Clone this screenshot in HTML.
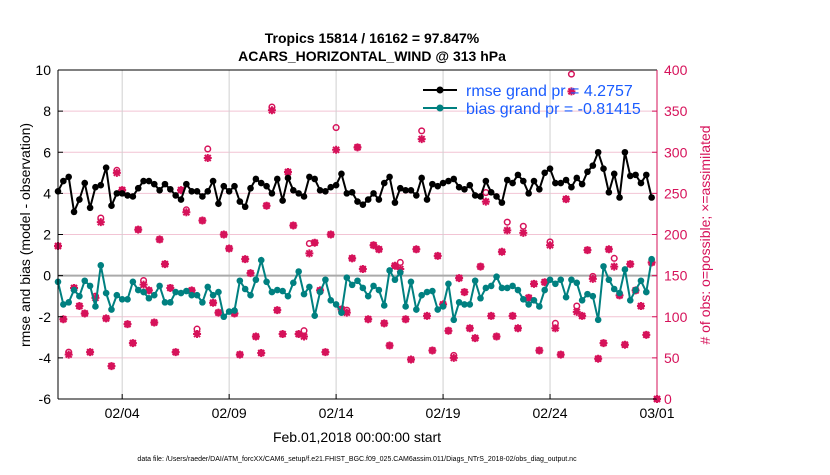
<!DOCTYPE html>
<html><head><meta charset="utf-8"><style>
body{margin:0;background:#fff;width:830px;height:470px;overflow:hidden;font-family:"Liberation Sans",sans-serif}
svg text{font-family:"Liberation Sans",sans-serif}
</style></head><body>
<svg id="chart" width="830" height="470" xmlns="http://www.w3.org/2000/svg">
<text x="372" y="43" text-anchor="middle" font-size="14" font-weight="bold">Tropics 15814 / 16162 = 97.847%</text>
<text x="372" y="61" text-anchor="middle" font-size="14" font-weight="bold">ACARS_HORIZONTAL_WIND @ 313 hPa</text>
<g id="grid"></g><g id="marks"></g><g id="axes"></g>
<text transform="translate(30,235) rotate(-90)" text-anchor="middle" font-size="14">rmse and bias (model - observation)</text>
<text transform="translate(710,235) rotate(-90)" text-anchor="middle" font-size="14" fill="#d6125a"># of obs: o=possible; ×=assimilated</text>
<text x="357" y="442" text-anchor="middle" font-size="14">Feb.01,2018 00:00:00 start</text>
<text x="357" y="461" text-anchor="middle" font-size="7">data file: /Users/raeder/DAI/ATM_forcXX/CAM6_setup/f.e21.FHIST_BGC.f09_025.CAM6assim.011/Diags_NTrS_2018-02/obs_diag_output.nc</text>
<g>
<line x1="423" y1="90" x2="457" y2="90" stroke="#000" stroke-width="2"/><circle cx="440" cy="90" r="3.5" fill="#000"/>
<text x="466" y="96" font-size="16" fill="#1a5cff">rmse grand pr = 4.2757</text>
<line x1="423" y1="108" x2="457" y2="108" stroke="#008080" stroke-width="2"/><circle cx="440" cy="108" r="3.5" fill="#008080"/>
<text x="466" y="114" font-size="16" fill="#1a5cff">bias grand pr = -0.81415</text>
</g>
</svg>
<script>
const rmse=[4.1,4.6,4.8,3.1,3.7,4.5,3.3,4.3,4.4,5.25,3.4,4.0,4.0,3.9,3.85,4.25,4.6,4.6,4.45,4.15,4.45,4.2,3.9,3.7,4.45,4.1,4.1,3.85,
4.1,4.6,3.5,4.35,4.1,4.35,3.6,3.35,4.25,4.7,4.5,4.35,4.0,4.7,3.65,4.75,4.15,4.0,3.85,4.8,4.7,4.15,4.1,4.3,4.4,4.95,4.0,4.05,3.6,
3.45,3.7,4.0,3.7,4.5,4.8,3.55,4.25,4.15,4.15,3.9,4.75,3.7,4.45,4.35,4.5,4.6,4.7,4.3,4.2,4.4,3.9,3.85,4.6,4.05,3.85,3.55,4.65,
4.5,4.9,4.6,4.0,4.6,4.2,5.0,5.2,4.5,4.5,4.65,4.3,4.75,4.45,5.05,5.35,6.0,5.2,4.05,4.95,3.8,6.0,4.85,4.9,4.5,4.9,3.8,null];
const bias=[-0.3,-1.4,-1.3,-0.7,-1.0,-0.25,-0.5,-1.5,0.5,-0.85,-1.65,-0.95,-1.15,-1.15,-0.3,-0.7,-0.8,-1.1,-0.95,-0.5,-1.3,-1.3,-0.8,-0.85,-0.75,-0.95,-0.95,-1.3,-0.55,
-0.95,-0.8,-2.0,-1.75,-1.7,-0.25,-0.65,-0.95,-0.2,0.75,-0.3,-0.8,-0.7,-0.75,-1.0,-0.35,0.2,-0.9,-0.55,-1.95,-0.8,-0.2,-1.2,-1.4,-1.8,-0.1,-0.45,-0.25,
-0.6,-1.0,-0.5,-0.7,-1.45,0.25,-0.2,0.15,-1.5,-0.3,-1.65,-0.95,-0.8,-0.75,-1.65,-1.5,-0.4,-2.15,-1.3,-1.4,-1.4,-0.25,-1.1,-0.6,-0.5,-0.05,-0.6,-0.6,
-0.5,-0.7,-1.15,-1.4,-1.2,-1.5,-0.7,-0.2,-0.4,-0.2,-1.05,-0.2,-0.35,-1.2,-0.9,-1.0,-2.15,0.45,-0.2,-0.65,-0.85,0.3,-1.2,-0.7,-0.25,-0.8,0.8,null];
const nAssim=[186,97,54,135,113,104,57,123,215,98,40,275,254,91,68,206,139,132,93,194,164,135,57,254,227,132,79,217,293,
117,105,200,183,104,54,170,153,76,56,235,351,108,79,276,211,79,76,177,190,132,57,200,303,109,105,171,306,
158,97,187,182,92,65,162,158,97,48,182,316,101,59,174,115,83,50,147,130,86,74,161,240,101,76,179,205,
101,86,202,123,140,59,142,187,86,54,243,374,106,101,181,146,49,68,182,161,126,66,164,132,113,78,166,0];
const nPoss=[186,97,57,135,113,104,57,125,220,98,40,278,254,91,68,206,144,132,93,194,164,135,57,254,230,132,85,217,304,
117,105,200,183,104,54,170,153,76,56,235,355,108,79,276,211,79,83,189,190,132,57,200,330,109,108,171,306,
158,97,187,182,92,65,162,166,97,48,182,326,101,59,174,115,83,53,147,130,86,74,161,251,101,76,179,215,
101,86,210,123,140,59,142,191,92,54,243,395,113,101,181,149,49,68,182,171,126,66,164,132,113,78,166,0];
const leftTicks=[10,8,6,4,2,0,-2,-4,-6];
const rightTicks=[0,50,100,150,200,250,300,350,400];
const dateTicks=[3,8,13,18,23,28];
const dateLabels=["02/04","02/09","02/14","02/19","02/24","03/01"];
const stepDays=0.25;

const X0=58,X1=657,Y0=70,Y1=399;
const xs=d=>X0+(d/28)*(X1-X0);
const yl=v=>Y0+(10-v)/16*(Y1-Y0);
const yr=c=>Y1-c/400*(Y1-Y0);
const NS="http://www.w3.org/2000/svg";
function mk(tag,attrs,parent){const e=document.createElementNS(NS,tag);for(const k in attrs)e.setAttribute(k,attrs[k]);parent.appendChild(e);return e;}
const grid=document.getElementById('grid'),marks=document.getElementById('marks'),axes=document.getElementById('axes');
const PINK="#d6125a";

leftTicks.forEach(v=>{
 if(v!==10&&v!==-6&&v!==0){const g=mk('line',{x1:X0,x2:X1,y1:yl(v),y2:yl(v),stroke:'#f2c4d4','stroke-width':1},grid);
 
 }
 const t=mk('text',{x:X0-7,y:yl(v)+5,'text-anchor':'end','font-size':14},axes);t.textContent=v;
 
 
 mk('line',{x1:X0,x2:X0+5,y1:yl(v),y2:yl(v),stroke:'#000'},axes);
});
rightTicks.forEach(c=>{
 const t=mk('text',{x:X1+7,y:yr(c)+5,'font-size':14,fill:PINK},axes);t.textContent=c;
 
 
 mk('line',{x1:X1-5,x2:X1,y1:yr(c),y2:yr(c),stroke:PINK},axes);
});
dateTicks.forEach((d,i)=>{
 const g=mk('line',{x1:xs(d),x2:xs(d),y1:Y0,y2:Y1,stroke:'#d0d0d0'},grid);
 
 
 mk('line',{x1:xs(d),x2:xs(d),y1:Y1,y2:Y1-5,stroke:'#000'},axes);
 const t=mk('text',{x:xs(d),y:418,'text-anchor':'middle','font-size':14},axes);t.textContent=dateLabels[i];
 
 
});
const zl=mk('line',{x1:X0,x2:X1,y1:yl(0),y2:yl(0),stroke:'#aaa','stroke-width':2},grid);



nAssim.forEach((c,i)=>{
 const x=xs(i*stepDays);
 const pc=mk('circle',{cx:x,cy:yr(nPoss[i]),r:2.8,fill:'none',stroke:PINK,'stroke-width':1.5},marks);
 
 
 const y=yr(c);
 const s=mk('path',{d:`M${x-4},${y}H${x+4}M${x},${y-4}V${y+4}M${x-3},${y-3}L${x+3},${y+3}M${x-3},${y+3}L${x+3},${y-3}`,stroke:PINK,'stroke-width':2},marks);
 
 
});
function series(arr,color,name){
 let d='';let pen=false;
 arr.forEach((v,i)=>{if(v===null){pen=false;return;}d+=(pen?'L':'M')+xs(i*stepDays)+','+yl(v);pen=true;});
 const p=mk('path',{d:d,fill:'none',stroke:color,'stroke-width':2},marks);
 
 
 arr.forEach((v,i)=>{if(v===null)return;
  const c=mk('circle',{cx:xs(i*stepDays),cy:yl(v),r:3.3,fill:color},marks);
  
  });
}
series(rmse,'#000','rmse');
series(bias,'#008080','bias');

mk('line',{x1:X0,x2:X1,y1:Y0,y2:Y0,stroke:'#000'},axes);
mk('line',{x1:X0,x2:X1,y1:Y1,y2:Y1,stroke:'#000'},axes);
mk('line',{x1:X0,x2:X0,y1:Y0,y2:Y1,stroke:'#000'},axes);
mk('line',{x1:X1,x2:X1,y1:Y0,y2:Y1,stroke:PINK},axes);
</script>
</body></html>
